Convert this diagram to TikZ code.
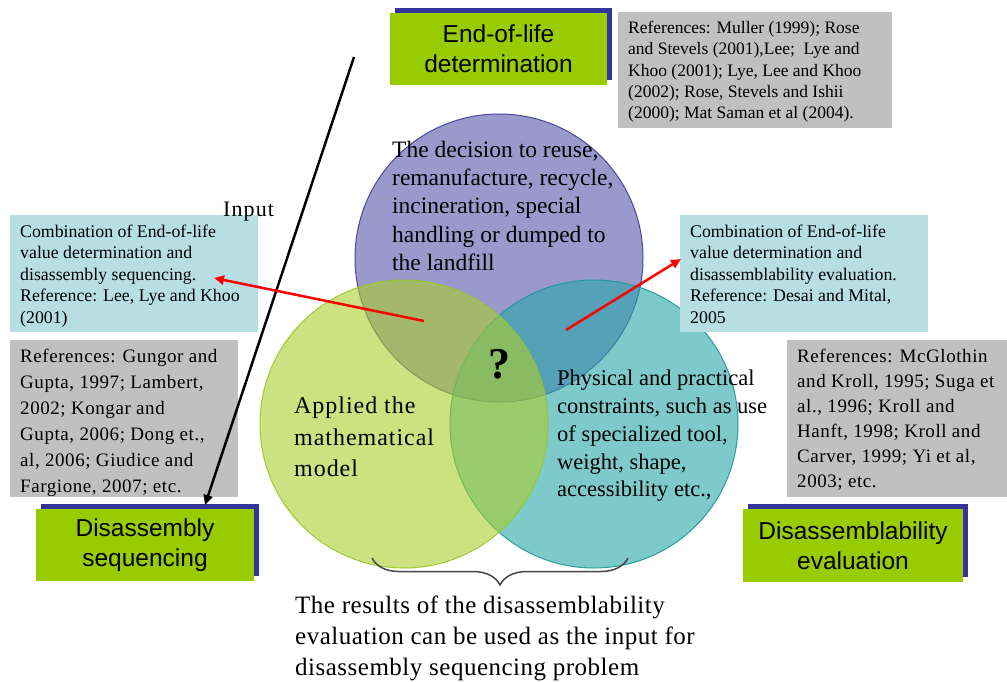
\documentclass[tikz,border=0pt]{standalone}
\usepackage{fontspec}
\setmainfont{Liberation Serif}
\newfontfamily\boxsans{Liberation Sans}
\newfontfamily\serifA[LetterSpace=2]{Liberation Serif}
\newfontfamily\serifB[LetterSpace=4]{Liberation Serif}
\newfontfamily\serifC[LetterSpace=3]{Liberation Serif}
\newfontfamily\serifD[LetterSpace=5]{Liberation Serif}
\usetikzlibrary{arrows.meta,decorations.pathreplacing,shadows}
\definecolor{circblue}{RGB}{85,85,170}
\definecolor{circteal}{RGB}{40,167,168}
\definecolor{circgreen}{RGB}{170,205,42}
\definecolor{circblueline}{RGB}{60,60,150}
\definecolor{circtealline}{RGB}{30,150,150}
\definecolor{circgreenline}{RGB}{150,200,40}
\definecolor{boxgreen}{RGB}{153,204,0}
\definecolor{shadowblue}{RGB}{51,51,153}
\definecolor{refgrey}{RGB}{192,192,192}
\definecolor{lightblue}{RGB}{183,222,227}
\definecolor{bracegrey}{RGB}{70,70,70}
\begin{document}
\begin{tikzpicture}[x=1pt,y=-1pt,
  circ/.style={circle, minimum size=288pt, inner sep=0pt, line width=1pt, fill opacity=0.6, draw opacity=0.9},
  ctext/.style={anchor=north west, align=left, inner sep=0pt},
  greenbox/.style={fill=boxgreen, inner sep=0pt, align=center,
    font=\boxsans\fontsize{24.5}{30}\selectfont,
    general shadow={fill=shadowblue, shadow xshift=5pt, shadow yshift=5pt}},
  bgbox/.style={anchor=north west, inner sep=0pt},
  redarrow/.style={draw=red, line width=2.5pt, -{Triangle[length=10pt,width=9pt]}},
]
\fill[white] (0,0) rectangle (1007,682);
\useasboundingbox (0,0) rectangle (1007,682);

% circles
\node[circ, fill=circblue, draw=circblueline] (cblue) at (499,258) {};
\node[circ, fill=circteal, draw=circtealline] (cteal) at (594,424) {};
\node[circ, fill=circgreen, draw=circgreenline] (cgreen) at (404,424) {};

% circle texts
\node[ctext, font=\fontsize{23.5}{28.3}\selectfont] (tblue) at (392,140.8)
  {The decision to reuse,\\remanufacture, recycle,\\incineration, special\\handling or dumped to\\the landfill};
\node[ctext, font=\serifB\fontsize{24}{31.8}\selectfont] (tgreen) at (294,396.4)
  {Applied the\\mathematical\\model};
\node[ctext, font=\fontsize{22.5}{27.9}\selectfont] (tteal) at (557,369.5)
  {Physical and practical\\constraints, such as use\\of specialized tool,\\weight, shape,\\accessibility etc.,};
\node[font=\bfseries\fontsize{44}{48}\selectfont, inner sep=0pt] (qmark) at (499,364) {?};

% green title boxes
\node[greenbox, minimum width=217pt, minimum height=72pt] (eol) at (498.5,49) {End-of-life\\determination};
\node[greenbox, minimum width=218pt, minimum height=72pt] (dseq) at (145,545) {Disassembly\\sequencing};
\node[greenbox, minimum width=220pt, minimum height=73pt] (deval) at (853,545.5) {Disassemblability\\evaluation};

% reference boxes
\node[bgbox, fill=refgrey, minimum width=274pt, minimum height=116pt] (refeol) at (618,12) {};
\node[ctext, font=\fontsize{17.5}{21.3}\selectfont] (refeoltxt) at (628,20.9)
  {References: Muller (1999); Rose\\and Stevels (2001),Lee;\ \ Lye and\\Khoo (2001); Lye, Lee and Khoo\\(2002); Rose, Stevels and Ishii\\(2000); Mat Saman et al (2004).};

\node[bgbox, fill=lightblue, minimum width=248pt, minimum height=117pt] (combl) at (10,215) {};
\node[ctext, font=\fontsize{17.8}{21.5}\selectfont] (combltxt) at (20,224.4)
  {Combination of End-of-life\\value determination and\\disassembly sequencing.\\Reference: Lee, Lye and Khoo\\(2001)};

\node[bgbox, fill=lightblue, minimum width=248pt, minimum height=117pt] (combr) at (680,215) {};
\node[ctext, font=\fontsize{17.8}{21.5}\selectfont] (combrtxt) at (690,224.4)
  {Combination of End-of-life\\value determination and\\disassemblability evaluation.\\Reference: Desai and Mital,\\2005};

\node[bgbox, fill=refgrey, minimum width=228pt, minimum height=157pt] (refl) at (10,340) {};
\node[ctext, font=\serifC\fontsize{19}{26}\selectfont] (refltxt) at (20,348.9)
  {References: Gungor and\\Gupta, 1997; Lambert,\\2002; Kongar and\\Gupta, 2006; Dong et.,\\al, 2006; Giudice and\\Fargione, 2007; etc.};

\node[bgbox, fill=refgrey, minimum width=220pt, minimum height=157pt] (refr) at (787,340) {};
\node[ctext, font=\serifC\fontsize{19}{25}\selectfont] (refrtxt) at (797,348.9)
  {References: McGlothin\\and Kroll, 1995; Suga et\\al., 1996; Kroll and\\Hanft, 1998; Kroll and\\Carver, 1999; Yi et al,\\2003; etc.};

% input label and arrow
\node[ctext, font=\serifD\fontsize{22}{26}\selectfont] (input) at (223,202) {Input};
\coordinate (instart) at (354,57);
\coordinate (inend) at (205,505);
\draw[line width=2.5pt, -{Triangle[length=10pt,width=9pt]}] (instart) -- (inend);

% red arrows
\coordinate (lstart) at (424,321);
\coordinate (lend) at (214,278);
\coordinate (rstart) at (566,330);
\coordinate (rend) at (681,259);
\draw[redarrow] (lstart) -- (lend);
\draw[redarrow] (rstart) -- (rend);

% brace and bottom text
\coordinate (bl) at (372,558);
\coordinate (br) at (628,558);
\draw[bracegrey, line width=1.5pt, decorate, decoration={brace, amplitude=27pt}] (br) -- (bl);
\node[ctext, font=\serifA\fontsize{25}{31}\selectfont] (bottomtxt) at (295,595.75)
  {The results of the disassemblability\\evaluation can be used as the input for\\disassembly sequencing problem};
\end{tikzpicture}
\end{document}
